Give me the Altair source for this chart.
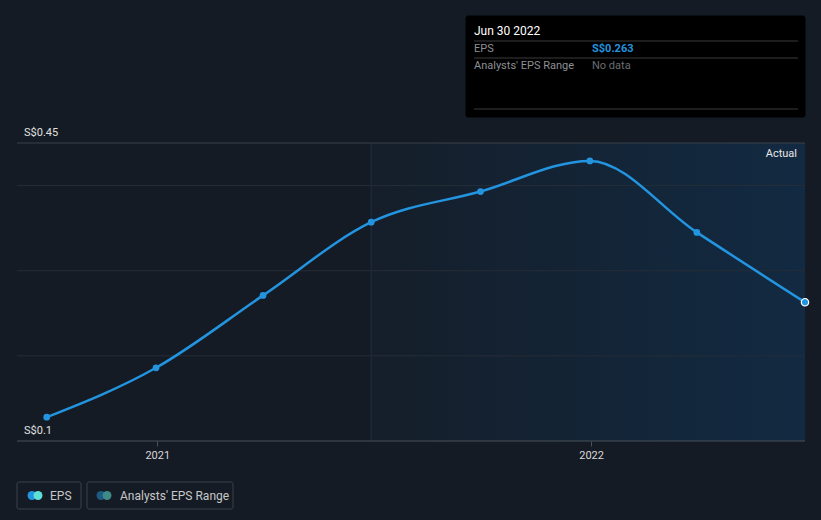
import altair as alt
import pandas as pd

# ---- data ----
dates = ["2020-09-30", "2020-12-31", "2021-03-31", "2021-06-30",
         "2021-09-30", "2021-12-31", "2022-03-31", "2022-06-30"]
eps = [0.128, 0.186, 0.271, 0.357, 0.393, 0.429, 0.345, 0.263]
grid_vals = [0.2, 0.3, 0.4]
y_labels = ["S$0.45", "S$0.1"]
y_label_vals = [0.45, 0.1]
x_domain = ["2020-09-05", "2022-06-30"]
forecast_start = "2021-06-30"
forecast_end = "2022-06-30"

df = pd.DataFrame({"date": dates, "eps": eps})
df_last = df.tail(1).reset_index(drop=True)
df_grid = pd.DataFrame({"v": grid_vals})
df_ylab = pd.DataFrame({"v": y_label_vals, "t": y_labels, "d": [x_domain[0]] * 2})
df_region = pd.DataFrame({"s": [forecast_start], "e": [forecast_end]})

W, H = 788, 298
FONT = "Roboto"

xscale = alt.Scale(domain=x_domain)
yscale = alt.Scale(domain=[0.1, 0.45])
xaxis = alt.Axis(tickCount={"interval": "year", "step": 1}, format="%Y",
                 title=None, grid=False, domain=False, tickColor="#4b5059",
                 tickSize=5, labelColor="#d8d8d8", labelFontSize=11,
                 labelFont=FONT, labelPadding=3)

X = alt.X("date:T", scale=xscale, axis=xaxis)
Y = alt.Y("eps:Q", scale=yscale, axis=None)

region = alt.Chart(df_region).mark_rect(
    color=alt.Gradient(gradient="linear", x1=0, x2=1, y1=0, y2=0,
                       stops=[alt.GradientStop(color="#151e2a", offset=0),
                              alt.GradientStop(color="#122a42", offset=1)])
).encode(x=alt.X("s:T", scale=xscale, axis=xaxis), x2="e:T")

vrule = alt.Chart(df_region).mark_rule(color="#1a3048", strokeWidth=1).encode(
    x=alt.X("s:T", scale=xscale, axis=xaxis))

grid = alt.Chart(df_grid).mark_rule(color="#262d37", strokeWidth=1).encode(
    y=alt.Y("v:Q", scale=yscale, axis=None))

top_line = alt.Chart(df_ylab).transform_filter("datum.v > 0.4").mark_rule(
    color="#3a4049", strokeWidth=1).encode(y=alt.Y("v:Q", scale=yscale, axis=None))

bottom_line = alt.Chart(df_ylab).transform_filter("datum.v < 0.15").mark_rule(
    color="#4b5059", strokeWidth=1).encode(y=alt.Y("v:Q", scale=yscale, axis=None))

ylab = alt.Chart(df_ylab).mark_text(
    align="left", baseline="bottom", dy=-5, dx=7, color="#e0e0e0", fontSize=11, font=FONT
).encode(x=alt.X("d:T", scale=xscale, axis=xaxis),
         y=alt.Y("v:Q", scale=yscale, axis=None), text="t:N")

line = alt.Chart(df).mark_line(color="#2394df", strokeWidth=2.5, interpolate="monotone").encode(x=X, y=Y)
pts = alt.Chart(df).mark_point(filled=True, color="#2394df", size=45, opacity=1).encode(x=X, y=Y)
last = alt.Chart(df_last).mark_point(filled=True, color="#2394df", size=55, opacity=1,
                                     stroke="white", strokeWidth=1.2).encode(x=X, y=Y)

# ---- decorations in pixel space (identity scales) ----
boxes = pd.DataFrame({
    "x0": [449, 0, 70], "x1": [788, 64, 216], "y0": [-127, 339, 339], "y1": [-26, 366, 366],
    "fill": ["#000000", "#151b24", "#151b24"], "stroke": ["#000000", "#3d434c", "#3d434c"],
})
rules = pd.DataFrame({"x0": [457, 457, 457], "x1": [781, 781, 781], "y0": [-102, -85, -34]})
dots = pd.DataFrame({"x": [15, 21, 84, 90], "y": [352.5] * 4,
                     "c": ["#2394df", "#5ee0d6", "#1e5a84", "#3d8a86"]})
texts = pd.DataFrame({
    "x": [780, 457, 457, 575, 457, 575, 33, 103],
    "y": [11, -112, -94, -94, -77, -77, 352.5, 352.5],
    "t": ["Actual", "Jun 30 2022", "EPS", "S$0.263", "Analysts' EPS Range", "No data",
          "EPS", "Analysts' EPS Range"],
    "c": ["#e8e8e8", "#ffffff", "#8c8f94", "#2394df", "#8c8f94", "#6a6d72", "#c8c8c8", "#c8c8c8"],
    "s": [11, 12, 11, 11, 11, 11, 12, 12],
    "k": ["r", "l", "l", "b", "l", "l", "l", "l"],
})

deco_boxes = alt.Chart(boxes).mark_rect(strokeWidth=1, cornerRadius=2).encode(
    x=alt.X("x0:Q", scale=None, axis=None), x2="x1:Q",
    y=alt.Y("y0:Q", scale=None, axis=None), y2="y1:Q",
    fill=alt.Fill("fill:N", scale=None), stroke=alt.Stroke("stroke:N", scale=None))
deco_rules = alt.Chart(rules).mark_rule(color="#3a3a3a", strokeWidth=1).encode(
    x=alt.X("x0:Q", scale=None, axis=None), x2="x1:Q",
    y=alt.Y("y0:Q", scale=None, axis=None))
deco_dots = alt.Chart(dots).mark_circle(size=80, opacity=1).encode(
    x=alt.X("x:Q", scale=None, axis=None), y=alt.Y("y:Q", scale=None, axis=None),
    color=alt.Color("c:N", scale=None))


def text_layer(kind, align, weight):
    return alt.Chart(texts).transform_filter(f"datum.k == '{kind}'").mark_text(
        align=align, baseline="middle", font=FONT, fontWeight=weight).encode(
        x=alt.X("x:Q", scale=None, axis=None), y=alt.Y("y:Q", scale=None, axis=None),
        text="t:N", color=alt.Color("c:N", scale=None), size=alt.Size("s:Q", scale=None))


chart = alt.layer(
    region, vrule, grid, top_line, bottom_line, ylab, line, pts, last,
    deco_boxes, deco_rules, deco_dots,
    text_layer("l", "left", "normal"), text_layer("b", "left", "bold"),
    text_layer("r", "right", "normal"),
).properties(
    width=W, height=H,
    autosize=alt.AutoSizeParams(type="none"),
    padding={"left": 17, "top": 143, "right": 16, "bottom": 79},
    background="#151b24"
).configure_view(strokeWidth=0)

chart.save("out.html", embed_options={"renderer": "svg", "actions": False})
